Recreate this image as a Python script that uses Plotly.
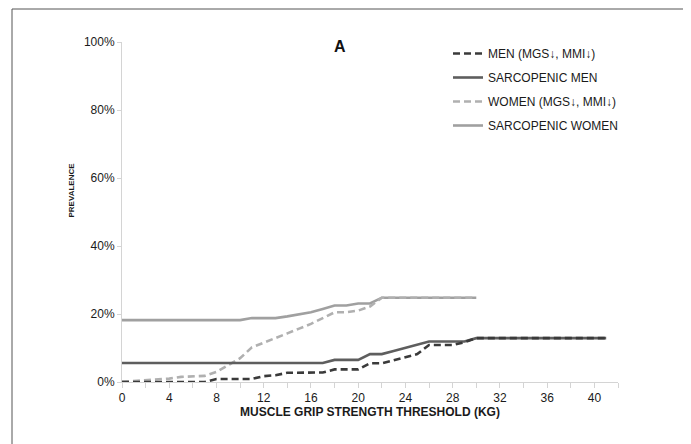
import plotly.graph_objects as go

# ---- data ----
men_x = list(range(0, 42))          # 0..41 kg
women_x = list(range(0, 31))        # 0..30 kg

men_low = [0, 0, 0, 0, 0, 0, 0, 0, 0.9, 0.9, 0.9, 0.9, 1.7, 2.0, 2.7, 2.8, 2.8, 2.8,
           3.7, 3.7, 3.7, 5.5, 5.5, 6.4, 7.3, 8.2, 10.9, 10.9, 10.9, 11.7,
           12.9, 12.9, 12.9, 12.9, 12.9, 12.9, 12.9, 12.9, 12.9, 12.9, 12.9, 12.9]
sarc_men = [5.6] * 18 + [6.5, 6.5, 6.5, 8.2, 8.2, 9.1, 10.1, 11.0, 11.9, 11.9, 11.9, 11.9] + [12.9] * 12
women_low = [0.1, 0.3, 0.5, 0.7, 1.0, 1.5, 1.6, 1.8, 3.0, 5.0, 7.0, 10.2, 11.5, 12.9,
             14.3, 15.7, 17.1, 18.8, 20.5, 20.5, 21.0, 22.2, 24.8, 24.8, 24.8, 24.8,
             24.8, 24.8, 24.8, 24.8, 24.8]
sarc_women = [18.2] * 11 + [18.8, 18.8, 18.8, 19.3, 19.9, 20.5, 21.5, 22.5, 22.5, 23.1, 23.1] + [24.8] * 9

names = ["MEN (MGS\u2193, MMI\u2193)", "SARCOPENIC MEN", "WOMEN (MGS\u2193, MMI\u2193)", "SARCOPENIC WOMEN"]
y_ticks = [0, 20, 40, 60, 80, 100]
y_labels = ["0%", "20%", "40%", "60%", "80%", "100%"]

# page body has an 8px margin; work in window coordinates and subtract it
OFF = 8
W, H = 691 - OFF, 444 - OFF
PL, PR, PT, PB = 122, 618, 42, 382          # plot area in window coordinates
ML, MR, MT, MB = PL - OFF, W - (PR - OFF), PT - OFF, H - (PB - OFF)
pw, ph = PR - PL, PB - PT


def px(x):
    return (x - PL) / pw


def py(y):
    return (PB - y) / ph


FONT = "Liberation Sans, Arial, sans-serif"
TXT = "#1a1a1a"
AX = "#d4d4d4"

fig = go.Figure()
series = [
    (women_x, sarc_women, names[3], "#a0a0a0", "solid"),
    (women_x, women_low, names[2], "#b0b0b0", "7px,4px"),
    (men_x, sarc_men, names[1], "#5e5e5e", "solid"),
    (men_x, men_low, names[0], "#3a3a3a", "7px,4px"),
]
order = {names[0]: 1, names[1]: 2, names[2]: 3, names[3]: 4}
for xs, ys, nm, col, dash in series:
    fig.add_trace(go.Scatter(
        x=xs, y=ys, name=nm, mode="lines",
        line=dict(color=col, width=2.6, dash=dash),
        cliponaxis=False, legendgroup=nm, legendrank=order[nm],
    ))

fig.update_layout(
    width=W, height=H,
    margin=dict(l=ML, r=MR, t=MT, b=MB),
    paper_bgcolor="white", plot_bgcolor="white",
    font=dict(family=FONT, size=12, color=TXT),
    showlegend=True,
    legend=dict(x=px(448), y=py(39), xanchor="left", yanchor="top",
                font=dict(size=12, color=TXT), tracegroupgap=5,
                bgcolor="rgba(0,0,0,0)", itemwidth=30),
    xaxis=dict(range=[0, 42], tick0=0, dtick=4, showgrid=False, zeroline=False,
               showline=True, linecolor=AX, linewidth=1,
               ticks="outside", ticklen=5, tickcolor=AX,
               minor=dict(dtick=2, ticks="outside", ticklen=5, tickcolor=AX),
               tickfont=dict(size=12, color=TXT),
               title=dict(text="<b>MUSCLE GRIP STRENGTH THRESHOLD (KG)</b>",
                          font=dict(size=12, color=TXT), standoff=1)),
    yaxis=dict(range=[0, 100], tickvals=y_ticks, ticktext=y_labels, showgrid=False,
               zeroline=False, showline=True, linecolor=AX, linewidth=1,
               ticks="outside", ticklen=4, tickcolor=AX,
               tickfont=dict(size=12, color=TXT)),
)

fig.add_annotation(text="<b>PREVALENCE</b>", xref="paper", yref="paper",
                   x=px(71), y=py(190.5), xanchor="center", yanchor="middle",
                   showarrow=False, textangle=-90,
                   font=dict(size=8, color=TXT))
fig.add_annotation(text="<b>A</b>", xref="paper", yref="paper",
                   x=px(340), y=py(47), xanchor="center", yanchor="middle",
                   showarrow=False, font=dict(size=16, color="#111111"))

# outer frame (left and top edges)
fig.add_shape(type="line", xref="paper", yref="paper", x0=px(12), x1=px(12), y0=py(9), y1=py(460),
              line=dict(color="#555555", width=1))
fig.add_shape(type="line", xref="paper", yref="paper", x0=px(12), x1=px(700), y0=py(9), y1=py(9),
              line=dict(color="#555555", width=1))

fig.write_html("out.html")
